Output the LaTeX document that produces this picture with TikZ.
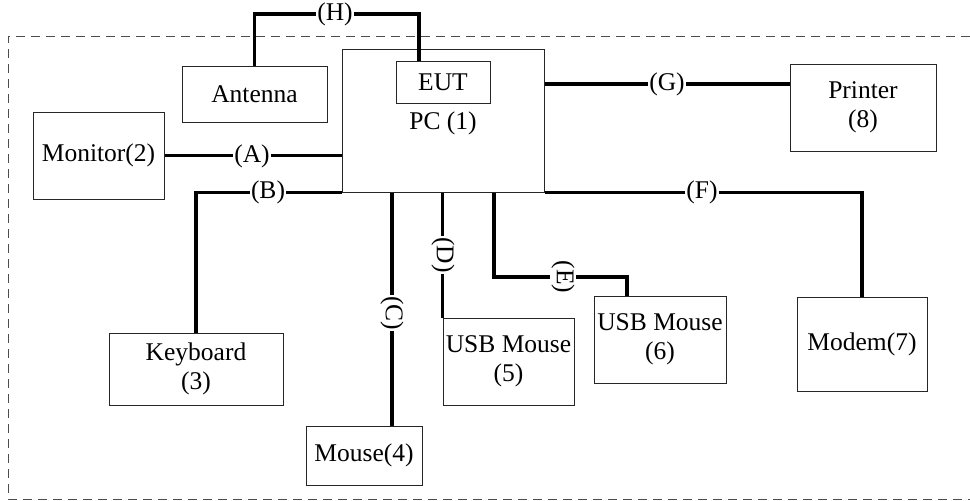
\documentclass[tikz,border=0pt]{standalone}
\usepackage{fontspec}
\setmainfont{Liberation Serif}
\begin{document}
\begin{tikzpicture}[x=1pt,y=-1pt,
  box/.style={draw=black!85,line width=1pt,inner sep=0pt,align=center,
    font=\fontsize{25.5}{29}\selectfont},
  txt/.style={inner sep=0pt,font=\fontsize{25.5}{29}\selectfont},
  conn/.style={line width=3.5pt},
  lbl/.style={fill=white,inner sep=1pt,font=\fontsize{25.5}{29}\selectfont},
  frame/.style={draw=black!70,line width=0.8pt,dash pattern=on 9pt off 6pt}]
\useasboundingbox (0,0) rectangle (970,501);
% frame
\draw[frame] (970,36) -- (8,36) -- (8,499) -- (970,499);
% boxes
\node[box,minimum width=202pt,minimum height=143pt] (pc) at (443,120.5) {};
\node[box,minimum width=94pt,minimum height=42pt] (eut) at (443,82) {EUT};
\node[txt] (pclbl) at (443,123) {PC (1)};
\node[box,minimum width=145pt,minimum height=56pt] (ant) at (254.5,94) {Antenna};
\node[box,minimum width=131pt,minimum height=87pt] (mon) at (98.5,155.5) {Monitor(2)};
\node[box,minimum width=146pt,minimum height=87pt] (prn) at (863,107.5) {Printer\\(8)};
\node[box,minimum width=174pt,minimum height=72pt] (kbd) at (196,369) {Keyboard\\(3)};
\node[box,minimum width=116pt,minimum height=59pt] (mouse) at (364,455.5) {Mouse(4)};
\node[box,minimum width=131pt,minimum height=87pt] (usb5) at (508.5,361.5) {USB Mouse\\(5)};
\node[box,minimum width=132pt,minimum height=87pt] (usb6) at (660,339.5) {USB Mouse\\(6)};
\node[box,minimum width=130pt,minimum height=94pt] (modem) at (862,344) {Modem(7)};
% connectors
\draw[conn] (ant.north) -- (ant.north |- 0,14) -| ([xshift=-24pt]eut.north);
\draw[conn] (mon.east) -- (mon.east -| pc.west);
\draw[conn] (pc.south west) -| (kbd.north);
\draw[conn] ([xshift=28pt]mouse.north) -- ([xshift=28pt]mouse.north |- pc.south);
\draw[conn] (usb5.north west) -- (usb5.north west |- pc.south);
\draw[conn] (pc.south -| 494,0) -- (494,277) -| ([xshift=-33pt]usb6.north);
\draw[conn] (pc.south east) -| (modem.north);
\draw[conn] (pc.east |- 0,84) -- (prn.west |- 0,84);
% labels
\node[lbl] (lH) at (335,14) {(H)};
\node[lbl] (lA) at (252,156) {(A)};
\node[lbl] (lB) at (268,192) {(B)};
\node[lbl,rotate=-90] (lC) at (392,313) {(C)};
\node[lbl,rotate=-90] (lD) at (443,255) {(D)};
\node[lbl,rotate=-90] (lE) at (563,277) {(E)};
\node[lbl] (lF) at (702,192) {(F)};
\node[lbl] (lG) at (667,84) {(G)};
\end{tikzpicture}
\end{document}
